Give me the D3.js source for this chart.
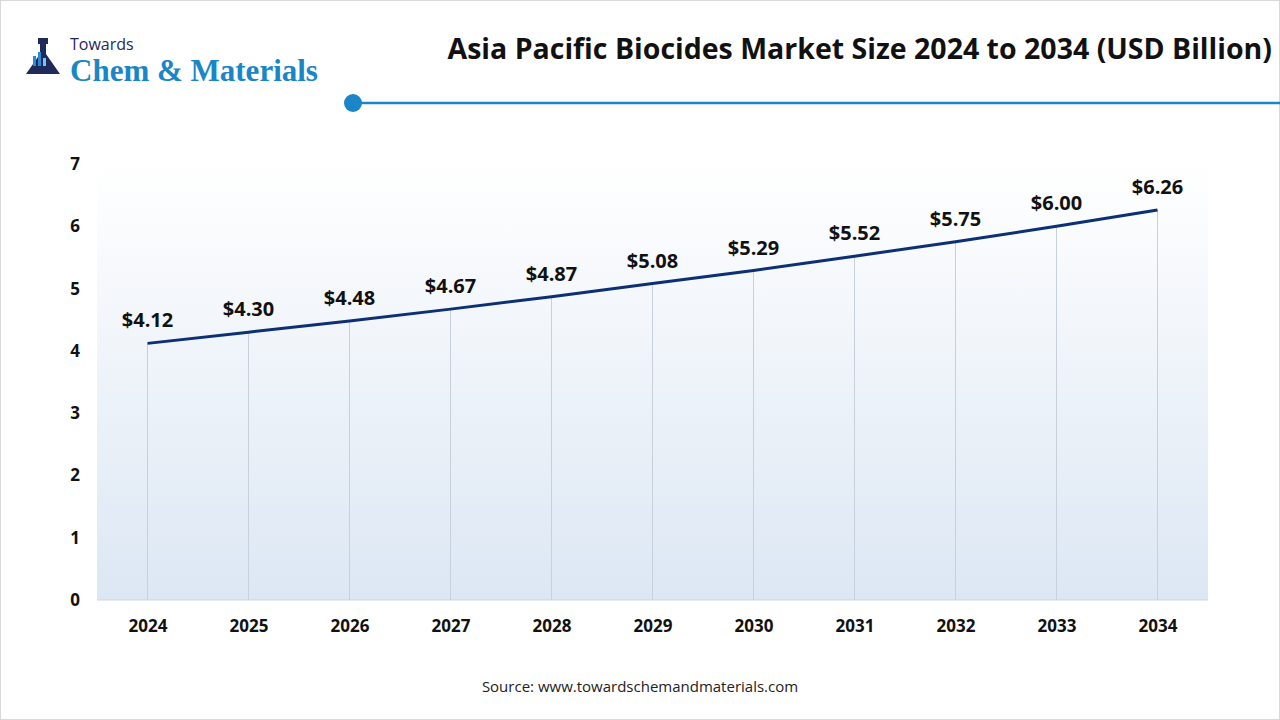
<!DOCTYPE html>
<html><head><meta charset="utf-8">
<script src="https://cdn.jsdelivr.net/npm/d3@7"></script>
<style>body{margin:0;background:#fff}svg{display:block;font-family:"Open Sans","Noto Sans",sans-serif}</style>
</head><body><div id="chart"></div>
<script>
// chart data
var years = ["2024","2025","2026","2027","2028","2029","2030","2031","2032","2033","2034"];
var values = [4.12,4.30,4.48,4.67,4.87,5.08,5.29,5.52,5.75,6.00,6.26];
var yTicks = [0,1,2,3,4,5,6,7];

var W = 1280, H = 720;
var svg = d3.select("#chart").append("svg").attr("width", W).attr("height", H);

// outer border
svg.append("rect").attr("x",0.5).attr("y",0.5).attr("width",W-1).attr("height",H-1)
  .attr("fill","none").attr("stroke","#d9d9d9");

// logo
var logo = svg.append("g");
logo.append("path").attr("d","M38,38 h10 v6 h-2 v10 l14,20 h-34 l14,-20 v-10 h-2 z").attr("fill","#1f2a5a");
logo.append("rect").attr("x",33).attr("y",56).attr("width",3).attr("height",10).attr("fill","#2b8ad6");
logo.append("rect").attr("x",38).attr("y",52).attr("width",3).attr("height",14).attr("fill","#2b8ad6");
logo.append("rect").attr("x",43).attr("y",58).attr("width",3).attr("height",8).attr("fill","#7fc0ee");
logo.append("text").attr("x",70).attr("y",50).attr("font-size",16).attr("fill","#1f2a5a").text("Towards");
logo.append("text").attr("x",70).attr("y",81).attr("font-size",31).attr("font-weight","bold")
  .attr("font-family","'Liberation Serif','DejaVu Serif',serif").attr("fill","#1a86c8").text("Chem & Materials");

// title
svg.append("text").attr("x",1272).attr("y",59).attr("text-anchor","end")
  .attr("font-size",28.5).attr("font-weight","bold").attr("fill","#111")
  .text("Asia Pacific Biocides Market Size 2024 to 2034 (USD Billion)");
svg.append("line").attr("x1",353).attr("x2",1280).attr("y1",103).attr("y2",103)
  .attr("stroke","#1a86c8").attr("stroke-width",2.5);
svg.append("circle").attr("cx",353).attr("cy",103).attr("r",9).attr("fill","#1a86c8");

var margin = {left:97, right:72, top:164, bottom:120};
var pw = W - margin.left - margin.right, ph = H - margin.top - margin.bottom;
var g = svg.append("g").attr("transform","translate("+margin.left+","+margin.top+")");

var x = d3.scalePoint().domain(years).range([0,pw]).padding(0.5);
var y = d3.scaleLinear().domain([0,7]).range([ph,0]);

var defs = svg.append("defs");
var grad = defs.append("linearGradient").attr("id","bg").attr("x1",0).attr("x2",0).attr("y1",0).attr("y2",1);
grad.append("stop").attr("offset","0%").attr("stop-color","#ffffff");
grad.append("stop").attr("offset","100%").attr("stop-color","#dce7f4");
g.append("rect").attr("width",pw).attr("height",ph).attr("fill","url(#bg)");

// drop lines
g.selectAll("line.drop").data(values).enter().append("line").attr("class","drop")
  .attr("x1",function(d,i){return x(years[i]);}).attr("x2",function(d,i){return x(years[i]);})
  .attr("y1",function(d){return y(d);}).attr("y2",ph)
  .attr("stroke","#c8d0da").attr("stroke-width",1);

g.append("line").attr("x1",0).attr("x2",pw).attr("y1",ph).attr("y2",ph).attr("stroke","#d0d6de");

// axes
var yAxis = g.append("g").call(d3.axisLeft(y).tickValues(yTicks).tickFormat(d3.format("d")).tickSize(0).tickPadding(22));
yAxis.select(".domain").remove();
yAxis.selectAll("text").attr("font-size",17).attr("font-weight","bold").attr("fill","#111")
  .attr("font-family","'Open Sans',sans-serif").attr("text-anchor","middle");

var xAxis = g.append("g").attr("transform","translate(0,"+ph+")")
  .call(d3.axisBottom(x).tickSize(0).tickPadding(20));
xAxis.select(".domain").remove();
xAxis.selectAll("text").attr("font-size",17).attr("font-weight","bold").attr("fill","#111")
  .attr("font-family","'Open Sans',sans-serif");

// line
var line = d3.line().x(function(d,i){return x(years[i]);}).y(function(d){return y(d);});
g.append("path").datum(values).attr("d",line).attr("fill","none")
  .attr("stroke","#0d2f73").attr("stroke-width",3);

// labels
g.selectAll("text.lbl").data(values).enter().append("text").attr("class","lbl")
  .attr("x",function(d,i){return x(years[i]);}).attr("y",function(d){return y(d)-16;})
  .attr("text-anchor","middle").attr("font-size",20).attr("font-weight","bold").attr("fill","#111")
  .text(function(d){return "$"+d.toFixed(2);});

// source
svg.append("text").attr("x",640).attr("y",692).attr("text-anchor","middle")
  .attr("font-size",15).attr("fill","#222").text("Source: www.towardschemandmaterials.com");
</script></body></html>
